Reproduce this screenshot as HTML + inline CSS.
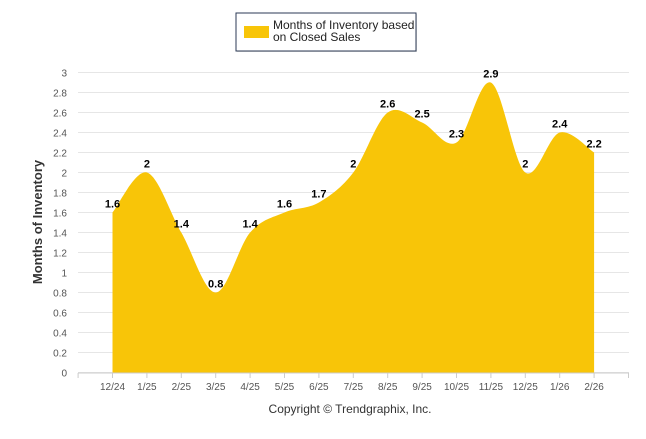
<!DOCTYPE html>
<html><head><meta charset="utf-8"><style>
body{margin:0;background:#fff;font-family:"Liberation Sans",sans-serif}
</style></head><body>
<svg width="646" height="434" xmlns="http://www.w3.org/2000/svg" font-family="Liberation Sans, sans-serif">
<g>
<rect x="237" y="14" width="180" height="38" fill="#ccc" opacity="0.6"/>
<rect x="236" y="13" width="180" height="38" fill="#fff" stroke="#2b3a55" stroke-width="1"/>
<rect x="244" y="26" width="25" height="12" fill="#F8C508"/>
<text x="273" y="29" font-size="12" fill="#222">Months of Inventory based</text>
<text x="273" y="41" font-size="12" fill="#222">on Closed Sales</text>
</g>
<g id="grid"></g>
<path id="area" fill="#F8C508"/>
<g id="labels"></g>
<text transform="translate(42,222) rotate(-90)" text-anchor="middle" font-size="13" font-weight="bold" fill="#333">Months of Inventory</text>
<text x="350" y="413" text-anchor="middle" font-size="12" fill="#333">Copyright © Trendgraphix, Inc.</text>
</svg>
<script>
const categories=["12/24","1/25","2/25","3/25","4/25","5/25","6/25","7/25","8/25","9/25","10/25","11/25","12/25","1/26","2/26"];
const values=[1.6,2,1.4,0.8,1.4,1.6,1.7,2,2.6,2.5,2.3,2.9,2,2.4,2.2];
const yTicks=[0,0.2,0.4,0.6,0.8,1,1.2,1.4,1.6,1.8,2,2.2,2.4,2.6,2.8,3];
const NS="http://www.w3.org/2000/svg";
const x=i=>112.5+i*34.4, y=v=>372.5-v*100;
const grid=document.getElementById('grid'), labels=document.getElementById('labels');
function mk(t,a,p){const e=document.createElementNS(NS,t);for(const k in a)e.setAttribute(k,a[k]);p.appendChild(e);return e;}
yTicks.forEach(v=>{
 const l=mk('line',{x1:78,x2:629,y1:y(v),y2:y(v),stroke:'#e6e6e6'},grid);
 
 
 const t=mk('text',{x:67,y:y(v)+4,'text-anchor':'end','font-size':10,fill:'#555'},grid);
 t.textContent=String(v);
 
 
});
mk('line',{x1:78,x2:629,y1:373,y2:373,stroke:'#ccc'},grid);
for(let i=-1;i<=categories.length;i++){
 mk('line',{x1:x(i),x2:x(i),y1:373,y2:378,stroke:'#ccc'},grid);
}
categories.forEach((c,i)=>{
 const t=mk('text',{x:x(i),y:390,'text-anchor':'middle','font-size':10,fill:'#555'},grid);
 t.textContent=c;
 
 
});
const pts=values.map((v,i)=>[x(i),y(v)]);
let d=`M${pts[0][0]},${y(0)} L${pts[0][0]},${pts[0][1]}`;
const s=1/6*1.0;
for(let i=0;i<pts.length-1;i++){
 const p0=pts[Math.max(0,i-1)],p1=pts[i],p2=pts[i+1],p3=pts[Math.min(pts.length-1,i+2)];
 const c1=[p1[0]+(p2[0]-p0[0])*s,p1[1]+(p2[1]-p0[1])*s];
 const c2=[p2[0]-(p3[0]-p1[0])*s,p2[1]-(p3[1]-p1[1])*s];
 d+=` C${c1[0]},${c1[1]} ${c2[0]},${c2[1]} ${p2[0]},${p2[1]}`;
}
d+=` L${pts[pts.length-1][0]},${y(0)} Z`;
document.getElementById('area').setAttribute('d',d);
values.forEach((v,i)=>{
 const t=mk('text',{x:x(i),y:y(v)-5,'text-anchor':'middle','font-size':11,'font-weight':'bold',fill:'#000'},labels);
 t.textContent=String(v);
 
 
});
</script>
</body></html>
